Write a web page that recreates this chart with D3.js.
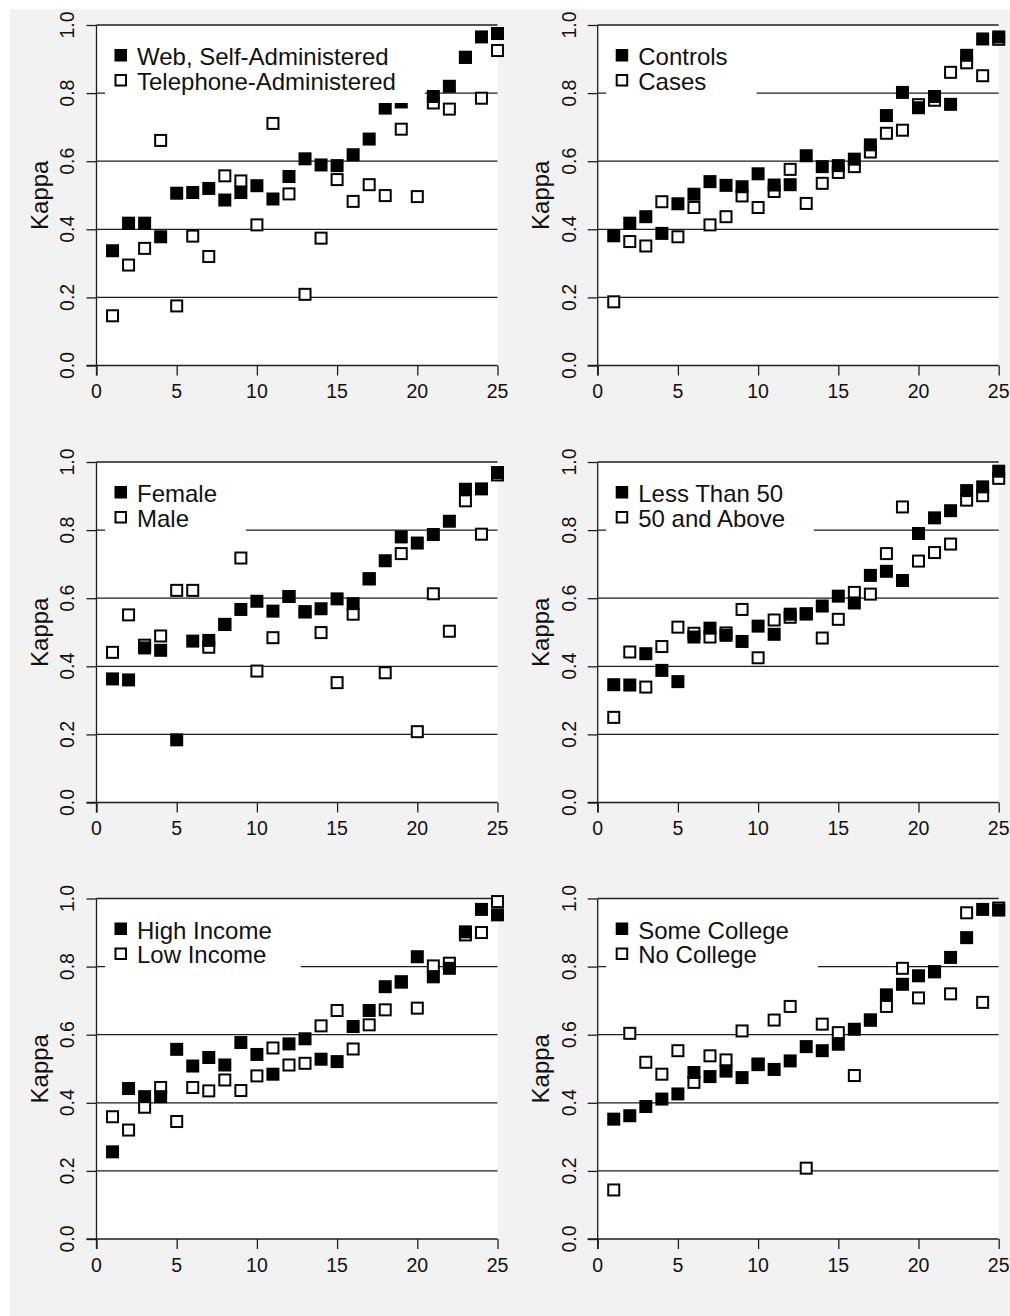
<!DOCTYPE html>
<html>
<head>
  <meta charset="utf-8">
  <script src="https://cdnjs.cloudflare.com/ajax/libs/d3/7.8.5/d3.min.js"></script>
  <title>Kappa</title>
  <style>
    body { margin: 0; background: #fff; }
    text { font-family: "Liberation Sans", Arial, sans-serif; fill: #111; }
  </style>
</head>
<body>
<script>
// item number (x) for every panel
var items = [1,2,3,4,5,6,7,8,9,10,11,12,13,14,15,16,17,18,19,20,21,22,23,24,25];

var webSelf   = [0.337,0.418,0.418,0.378,0.506,0.508,0.520,0.486,0.508,0.528,0.489,0.555,0.607,0.589,0.587,0.619,0.665,0.756,0.774,0.800,0.790,0.820,0.905,0.965,0.975];
var telephone = [0.146,0.295,0.344,0.661,0.175,0.380,0.320,0.557,0.542,0.413,0.711,0.504,0.209,0.374,0.546,0.482,0.531,0.499,0.694,0.496,0.771,0.753,0.905,0.785,0.925];

var controls = [0.381,0.418,0.437,0.388,0.475,0.503,0.540,0.529,0.525,0.563,0.530,0.531,0.616,0.584,0.587,0.606,0.648,0.734,0.802,0.757,0.790,0.767,0.911,0.959,0.965];
var cases    = [0.187,0.364,0.351,0.481,0.378,0.464,0.413,0.437,0.498,0.464,0.511,0.576,0.476,0.535,0.567,0.584,0.627,0.682,0.691,0.766,0.779,0.861,0.889,0.851,0.958];

var female = [0.363,0.360,0.454,0.447,0.184,0.474,0.476,0.523,0.567,0.591,0.562,0.605,0.560,0.569,0.598,0.584,0.657,0.710,0.780,0.762,0.787,0.826,0.920,0.921,0.969];
var male   = [0.441,0.551,0.462,0.489,0.623,0.623,0.456,0.523,0.718,0.386,0.484,0.605,0.560,0.499,0.352,0.553,0.657,0.381,0.731,0.208,0.613,0.503,0.886,0.788,0.962];

var lessThan50 = [0.346,0.345,0.437,0.388,0.355,0.486,0.512,0.491,0.473,0.518,0.494,0.553,0.554,0.577,0.606,0.586,0.667,0.679,0.652,0.790,0.836,0.857,0.916,0.927,0.973];
var fiftyAbove = [0.250,0.442,0.339,0.458,0.515,0.497,0.486,0.498,0.567,0.425,0.536,0.544,0.554,0.483,0.538,0.617,0.612,0.731,0.868,0.709,0.734,0.759,0.888,0.901,0.952];

var highIncome = [0.256,0.442,0.418,0.418,0.557,0.508,0.533,0.511,0.577,0.542,0.484,0.573,0.588,0.528,0.521,0.624,0.671,0.741,0.755,0.829,0.770,0.795,0.902,0.968,0.952];
var lowIncome  = [0.359,0.320,0.387,0.445,0.345,0.445,0.435,0.467,0.436,0.479,0.561,0.511,0.516,0.626,0.671,0.558,0.629,0.673,0.755,0.678,0.802,0.810,0.893,0.900,0.991];

var someCollege = [0.352,0.362,0.389,0.411,0.426,0.489,0.477,0.493,0.474,0.514,0.498,0.523,0.565,0.553,0.572,0.616,0.643,0.717,0.748,0.773,0.785,0.827,0.885,0.968,0.966];
var noCollege   = [0.144,0.604,0.519,0.484,0.553,0.460,0.538,0.526,0.611,0.512,0.643,0.683,0.208,0.631,0.606,0.480,0.643,0.683,0.795,0.708,0.785,0.720,0.958,0.695,0.972];

var xTicks = [0,5,10,15,20,25];
var yTicks = [0,0.2,0.4,0.6,0.8,1];
var yTickLabels = ["0.0","0.2","0.4","0.6","0.8","1.0"];

var panels = [
  {filled: webSelf,     open: telephone,  names: ["Web, Self-Administered","Telephone-Administered"]},
  {filled: controls,    open: cases,      names: ["Controls","Cases"]},
  {filled: female,      open: male,       names: ["Female","Male"]},
  {filled: lessThan50,  open: fiftyAbove, names: ["Less Than 50","50 and Above"]},
  {filled: highIncome,  open: lowIncome,  names: ["High Income","Low Income"]},
  {filled: someCollege, open: noCollege,  names: ["Some College","No College"]}
];

var W = 1010, H = 1316;
var colX = [96.5, 597.7], rowY = [25, 462, 898.5];
var pw = 401, ph = 340.5;
var ink = "#1e1e1e";

var svg = d3.select("body").append("svg").attr("width", W).attr("height", H);
svg.append("rect").attr("x", 10).attr("y", 9).attr("width", W - 10).attr("height", H - 9).attr("fill", "#f2f2f2");

panels.forEach(function(p, k) {
  var x0 = colX[k % 2], y0 = rowY[Math.floor(k / 2)];
  var g = svg.append("g").attr("transform", "translate(" + x0 + "," + y0 + ")");
  var x = d3.scaleLinear().domain([0, 25]).range([0, pw]);
  var y = d3.scaleLinear().domain([0, 1]).range([ph, 0]);

  g.append("rect").attr("width", pw).attr("height", ph).attr("fill", "#fff");

  // grid lines
  g.selectAll("line.grid").data(yTicks.slice(1)).enter().append("line")
    .attr("x1", 0).attr("x2", pw)
    .attr("y1", function(d) { return y(d); }).attr("y2", function(d) { return y(d); })
    .attr("stroke", ink).attr("stroke-width", 1.3);

  // axes
  var ya = g.append("g").call(d3.axisLeft(y).tickValues(yTicks).tickSize(10).tickFormat(""));
  var xa = g.append("g").attr("transform", "translate(0," + ph + ")")
    .call(d3.axisBottom(x).tickValues(xTicks).tickSize(10).tickFormat(""));
  [ya, xa].forEach(function(a) {
    a.select(".domain").remove();
    a.selectAll("line").attr("stroke", ink).attr("stroke-width", 1.3);
  });
  g.append("line").attr("x1", 0).attr("x2", 0).attr("y1", 0).attr("y2", ph + 10).attr("stroke", ink).attr("stroke-width", 1.3);
  g.append("line").attr("x1", -10).attr("x2", pw).attr("y1", ph).attr("y2", ph).attr("stroke", ink).attr("stroke-width", 1.3);

  g.selectAll("text.yl").data(yTicks).enter().append("text")
    .attr("transform", function(d) { return "translate(-29," + y(d) + ") rotate(-90)"; })
    .attr("dy", "0.35em").attr("text-anchor", "middle").attr("font-size", 19.5)
    .text(function(d, i) { return yTickLabels[i]; });
  g.selectAll("text.xl").data(xTicks).enter().append("text")
    .attr("x", function(d) { return x(d); }).attr("y", ph + 26)
    .attr("dy", "0.35em").attr("text-anchor", "middle").attr("font-size", 19.5)
    .text(function(d) { return d; });
  g.append("text")
    .attr("transform", "translate(-57," + (ph / 2) + ") rotate(-90)")
    .attr("dy", "0.35em").attr("text-anchor", "middle").attr("font-size", 24)
    .text("Kappa");

  // points: open first, filled on top
  g.selectAll("rect.open").data(p.open).enter().append("rect")
    .attr("x", function(d, i) { return x(items[i]) - 5.5; })
    .attr("y", function(d) { return y(d) - 5.5; })
    .attr("width", 11).attr("height", 11)
    .attr("fill", "#fff").attr("stroke", "#000").attr("stroke-width", 2);
  g.selectAll("rect.filled").data(p.filled).enter().append("rect")
    .attr("x", function(d, i) { return x(items[i]) - 6.5; })
    .attr("y", function(d) { return y(d) - 6.5; })
    .attr("width", 13).attr("height", 13)
    .attr("fill", "#000");

  // legend
  var lg = g.append("g");
  var box = lg.append("rect").attr("x", 8.5).attr("y", 2).attr("height", 76).attr("fill", "#fff");
  lg.append("rect").attr("x", 18).attr("y", 24).attr("width", 12.5).attr("height", 12.5).attr("fill", "#000");
  lg.append("rect").attr("x", 19).attr("y", 50).attr("width", 10.5).attr("height", 10.5)
    .attr("fill", "#fff").attr("stroke", "#000").attr("stroke-width", 2);
  var t1 = lg.append("text").attr("x", 40.5).attr("y", 40).attr("font-size", 24).text(p.names[0]);
  var t2 = lg.append("text").attr("x", 40.5).attr("y", 64.5).attr("font-size", 24).text(p.names[1]);
  var tw = Math.max(t1.node().getComputedTextLength(), t2.node().getComputedTextLength());
  box.attr("width", 40.5 + tw + 29 - 8.5);
});
</script>
</body>
</html>
